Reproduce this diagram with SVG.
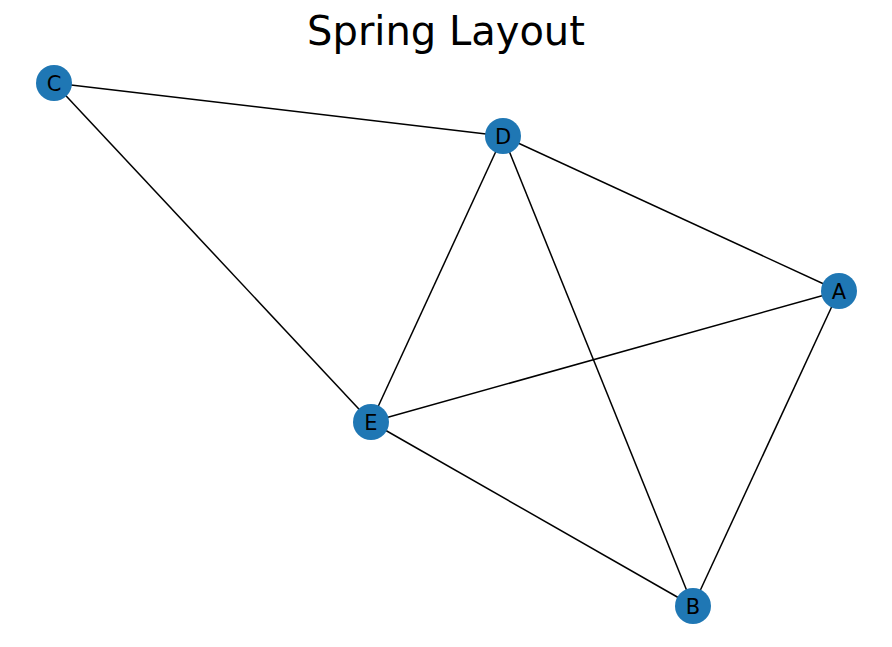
<svg xmlns="http://www.w3.org/2000/svg" width="892" height="647" viewBox="0 0 892 647">
<style>
.edge{stroke:#000;stroke-width:1.5;fill:none}
.node circle{fill:#1f77b4}
.node text{font-family:"DejaVu Sans",sans-serif;font-size:21px;fill:#000;text-anchor:middle}
.title{font-family:"DejaVu Sans",sans-serif;font-size:40px;fill:#000;text-anchor:middle}
</style>
<rect width="892" height="647" fill="#fff"/>
<text class="title" x="446" y="45">Spring Layout</text>
<g id="edges">
<line class="edge" x1="54" y1="83" x2="503" y2="136"/>
<line class="edge" x1="54" y1="83" x2="371" y2="422"/>
<line class="edge" x1="503" y1="136" x2="371" y2="422"/>
<line class="edge" x1="503" y1="136" x2="839" y2="291"/>
<line class="edge" x1="503" y1="136" x2="693" y2="606"/>
<line class="edge" x1="839" y1="291" x2="371" y2="422"/>
<line class="edge" x1="839" y1="291" x2="693" y2="606"/>
<line class="edge" x1="371" y1="422" x2="693" y2="606"/>
</g>
<g id="node-C" class="node"><circle cx="54" cy="83" r="18"/><text x="54" y="90.5">C</text></g>
<g id="node-D" class="node"><circle cx="503" cy="136" r="18"/><text x="503" y="143.5">D</text></g>
<g id="node-A" class="node"><circle cx="839" cy="291" r="18"/><text x="839" y="298.5">A</text></g>
<g id="node-E" class="node"><circle cx="371" cy="422" r="18"/><text x="371" y="429.5">E</text></g>
<g id="node-B" class="node"><circle cx="693" cy="606" r="18"/><text x="693" y="613.5">B</text></g>
</svg>
